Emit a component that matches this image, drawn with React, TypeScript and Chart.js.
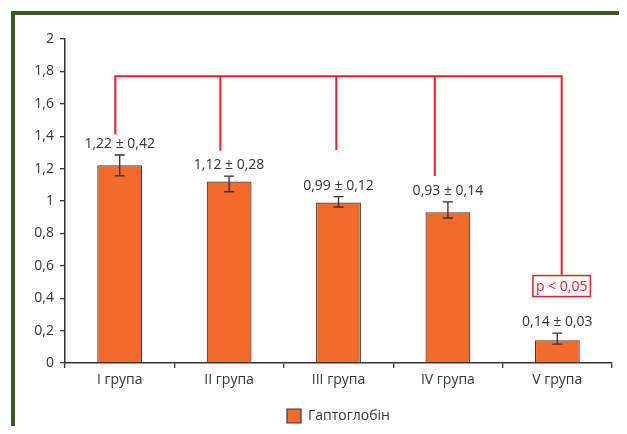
import React, { useEffect, useRef } from 'react';
import { Chart, registerables } from 'chart.js';

Chart.register(...registerables);

const categories = ['I група', 'II група', 'III група', 'IV група', 'V група'];
const values = [1.22, 1.12, 0.99, 0.93, 0.14];
const errLow = [1.155, 1.057, 0.963, 0.895, 0.117];
const errHigh = [1.284, 1.154, 1.027, 0.994, 0.185];
const valueLabels = ['1,22 ± 0,42', '1,12 ± 0,28', '0,99 ± 0,12', '0,93 ± 0,14', '0,14 ± 0,03'];
const seriesName = 'Гаптоглобін';

// red significance bracket: x in category units, y in value units
const bracketX = [-0.04, 0.92, 1.98, 2.88, 4.04];
const bracketEnd = [1.41, 1.31, 1.315, 1.155, 0.545];
const bracketTop = 1.77;
const pValueY = 0.475;
const pLabel = 'p < 0,05';

const FONT = '"Open Sans", "Noto Sans", sans-serif';
const TEXT = '#333333';
const RED = '#ed1c24';

const annotations = {
  id: 'annotations',
  afterDatasetsDraw(chart: any) {
    const { ctx, scales } = chart;
    const x = scales.x;
    const y = scales.y;
    ctx.save();

    // error bars
    ctx.strokeStyle = TEXT;
    ctx.lineWidth = 1.3;
    values.forEach((_, i) => {
      const cx = x.getPixelForValue(i);
      const top = y.getPixelForValue(errHigh[i]);
      const bot = y.getPixelForValue(errLow[i]);
      ctx.beginPath();
      ctx.moveTo(cx, top);
      ctx.lineTo(cx, bot);
      ctx.moveTo(cx - 5, top);
      ctx.lineTo(cx + 5, top);
      ctx.moveTo(cx - 5, bot);
      ctx.lineTo(cx + 5, bot);
      ctx.stroke();
    });

    // value labels
    ctx.fillStyle = TEXT;
    ctx.font = `14px ${FONT}`;
    ctx.textAlign = 'center';
    ctx.textBaseline = 'middle';
    valueLabels.forEach((t, i) => {
      ctx.fillText(t, x.getPixelForValue(i), y.getPixelForValue(errHigh[i]) - 11);
    });

    // bracket
    ctx.strokeStyle = RED;
    ctx.lineWidth = 2;
    const yt = y.getPixelForValue(bracketTop);
    ctx.beginPath();
    ctx.moveTo(x.getPixelForValue(bracketX[0]), yt);
    ctx.lineTo(x.getPixelForValue(bracketX[bracketX.length - 1]), yt);
    bracketX.forEach((bx, i) => {
      const px = x.getPixelForValue(bx);
      ctx.moveTo(px, yt - 1);
      ctx.lineTo(px, y.getPixelForValue(bracketEnd[i]));
    });
    ctx.stroke();

    // p box
    const px = x.getPixelForValue(bracketX[bracketX.length - 1]);
    const py = y.getPixelForValue(pValueY);
    ctx.font = `14px ${FONT}`;
    const w = ctx.measureText(pLabel).width + 6;
    const h = 21;
    ctx.fillStyle = '#ffffff';
    ctx.fillRect(px - w / 2, py - h / 2, w, h);
    ctx.lineWidth = 1.5;
    ctx.strokeRect(px - w / 2, py - h / 2, w, h);
    ctx.fillStyle = RED;
    ctx.fillText(pLabel, px, py + 0.5);

    ctx.restore();
  },
};

export default function App() {
  const canvasRef = useRef<HTMLCanvasElement | null>(null);

  useEffect(() => {
    if (!canvasRef.current) return;
    const chart = new Chart(canvasRef.current, {
      type: 'bar',
      data: {
        labels: categories,
        datasets: [
          {
            label: seriesName,
            data: values,
            backgroundColor: '#f26b2d',
            borderColor: '#3a3a3a',
            borderWidth: 1.2,
            barPercentage: 0.41,
            categoryPercentage: 1,
          },
        ],
      },
      options: {
        responsive: false,
        animation: false,
        layout: { padding: { left: 0, right: 15, top: 39, bottom: 1 } },
        plugins: {
          tooltip: { enabled: false },
          legend: {
            position: 'bottom',
            fullSize: false,
            labels: {
              color: TEXT,
              font: { family: FONT, size: 14 },
              boxWidth: 14,
              boxHeight: 14,
              padding: 10,
            },
          },
        },
        scales: {
          x: {
            grid: { drawOnChartArea: false, drawTicks: true, tickLength: 5, color: TEXT, lineWidth: 1.3 },
            border: { color: TEXT, width: 1.5 },
            ticks: { color: TEXT, font: { family: FONT, size: 14 }, padding: 4 },
            afterFit: (s: any) => { s.height = 36; },
          },
          y: {
            min: 0,
            max: 2,
            grid: { drawOnChartArea: false, drawTicks: true, tickLength: 5, color: TEXT, lineWidth: 1.3 },
            border: { color: TEXT, width: 1.5 },
            ticks: {
              stepSize: 0.2,
              color: TEXT,
              font: { family: FONT, size: 14 },
              padding: 6,
              callback: (v: any) => String(Math.round(Number(v) * 10) / 10).replace('.', ','),
            },
            afterFit: (s: any) => { s.width = 65; },
          },
        },
      },
      plugins: [annotations],
    });
    return () => chart.destroy();
  }, []);

  return (
    <div style={{ position: 'relative', width: 627, height: 434, overflow: 'hidden', background: '#fff', margin: -8 }}>
      <div
        style={{
          position: 'absolute',
          left: 11,
          top: 11,
          width: 700,
          height: 500,
          border: '4px solid #3b5a1f',
          boxSizing: 'border-box',
        }}
      />
      <canvas ref={canvasRef} width={627} height={434} style={{ position: 'absolute', left: 0, top: 0 }} />
    </div>
  );
}
